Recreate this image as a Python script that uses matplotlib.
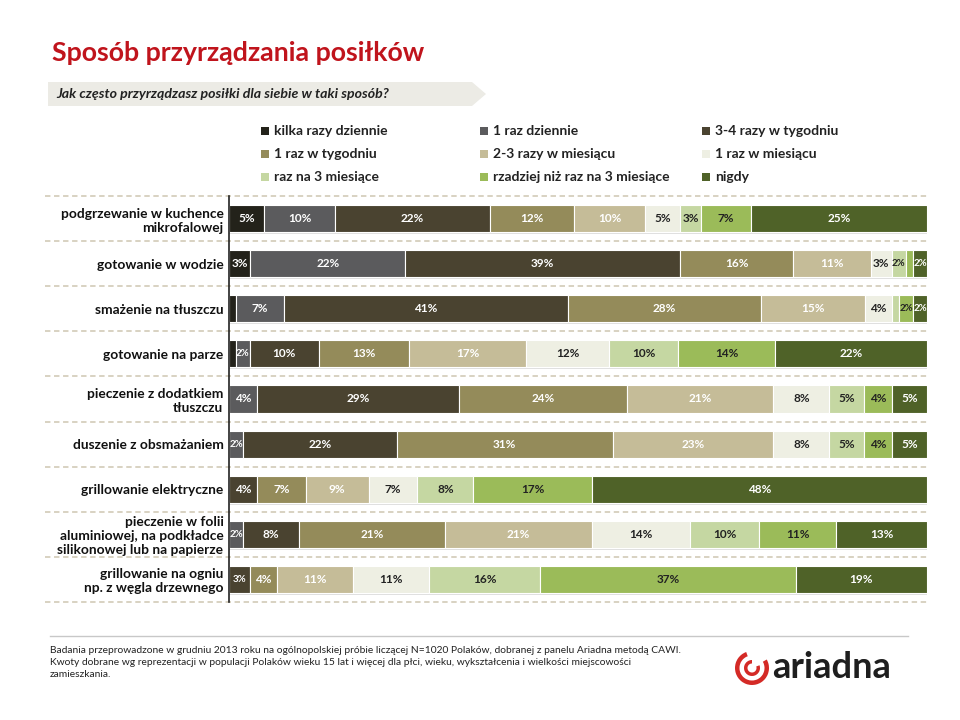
import numpy as np
import matplotlib.pyplot as plt
from matplotlib.patches import Polygon, Wedge
import matplotlib.transforms as mtransforms

plt.rcParams['font.family'] = ['Lato', 'DejaVu Sans']

# Data
methods = ['podgrzewanie w kuchence\nmikrofalowej',
           'gotowanie w wodzie',
           'smażenie na tłuszczu',
           'gotowanie na parze',
           'pieczenie z dodatkiem\ntłuszczu',
           'duszenie z obsmażaniem',
           'grillowanie elektryczne',
           'pieczenie w folii\naluminiowej, na podkładce\nsilikonowej lub na papierze',
           'grillowanie na ogniu\nnp. z węgla drzewnego']

freq_labels = ['kilka razy dziennie', '1 raz dziennie', '3-4 razy w tygodniu',
               '1 raz w tygodniu', '2-3 razy w miesiącu', '1 raz w miesiącu',
               'raz na 3 miesiące', 'rzadziej niż raz na 3 miesiące', 'nigdy']

# rows = methods, columns = frequency categories (%)
kuchenka = [5, 10, 22, 12, 10, 5, 3, 7, 25]
woda     = [3, 22, 39, 16, 11, 3, 2, 1, 2]
smazenie = [1, 7, 41, 28, 15, 4, 1, 2, 2]
para     = [1, 2, 10, 13, 17, 12, 10, 14, 22]
pieczenie_tl = [0, 4, 29, 24, 21, 8, 5, 4, 5]
duszenie = [0, 2, 22, 31, 23, 8, 5, 4, 5]
grill_el = [0, 0, 4, 7, 9, 7, 8, 17, 48]
folia    = [0, 2, 8, 21, 21, 14, 10, 11, 13]
grill_og = [0, 0, 3, 4, 11, 11, 16, 37, 19]

data = np.array([kuchenka, woda, smazenie, para, pieczenie_tl,
                 duszenie, grill_el, folia, grill_og], dtype=float)

colors = ['#23221a', '#5b5b5d', '#4a4330', '#948b5a', '#c5bc98',
          '#eeefe3', '#c5d7a2', '#9bbb59', '#4f6228']
text_colors = ['white', 'white', 'white', 'white', 'white',
               '#222222', '#222222', '#222222', 'white']

fig = plt.figure(figsize=(9.6, 7.2), dpi=100)

# Title and subtitle banner
fig.text(52 / 960, 1 - 53 / 720, 'Sposób przyrządzania posiłków', color='#c0141c',
         fontsize=19.3, fontweight='bold', va='center', ha='left')
banner = Polygon([(48 / 960, 1 - 82 / 720), (472 / 960, 1 - 82 / 720),
                  (486 / 960, 1 - 94 / 720), (472 / 960, 1 - 106 / 720),
                  (48 / 960, 1 - 106 / 720)], closed=True,
                 transform=fig.transFigure, facecolor='#ecebe5', edgecolor='none')
fig.patches.append(banner)
fig.text(56 / 960, 1 - 94 / 720, 'Jak często przyrządzasz posiłki dla siebie w taki sposób?',
         fontsize=10.2, fontweight='bold', style='italic', color='#222222',
         va='center', ha='left')

# Legend (row-wise, 3 columns)
col_x = [265, 484, 706]
row_y = [131, 154, 177]
for i, lab in enumerate(freq_labels):
    cx = col_x[i % 3]
    cy = row_y[i // 3]
    sq = plt.Rectangle(((cx - 4) / 960, 1 - (cy + 4) / 720), 8 / 960, 8 / 720,
                       transform=fig.transFigure, facecolor=colors[i], edgecolor='none')
    fig.patches.append(sq)
    fig.text((cx + 9) / 960, 1 - cy / 720, lab, fontsize=10, fontweight='bold',
             color='#222222', va='center', ha='left')

# Bars
ax = fig.add_axes([229 / 960, 1 - 602 / 720, (927 - 229) / 960, (602 - 196) / 720])
y = np.arange(len(methods))
totals = data.sum(axis=1)

# soft shadow under the bars
ax.barh(y + 0.04, np.full(len(methods), 100.0), height=0.6, color='#b8b8b8',
        alpha=0.45, edgecolor='none', zorder=2)

lefts = np.zeros(len(methods))
for j in range(data.shape[1]):
    widths = data[:, j] / totals * 100
    ax.barh(y, widths, left=lefts, height=0.6, color=colors[j],
            edgecolor='white', linewidth=0.8, zorder=3)
    for i in range(len(methods)):
        if data[i, j] >= 2:
            fs = 8.5 if widths[i] > 3 else 7
            ax.text(lefts[i] + widths[i] / 2, y[i], f'{int(data[i, j])}%',
                    ha='center', va='center', fontsize=fs, fontweight='bold',
                    color=text_colors[j], zorder=4)
    lefts = lefts + widths

# dashed separators across labels and bars
trans = mtransforms.blended_transform_factory(ax.transAxes, ax.transData)
for b in np.arange(len(methods) + 1) - 0.5:
    ax.plot([-0.264, 1.0], [b, b], transform=trans, color='#d6cfbd',
            lw=1.3, ls=(0, (3, 2)), clip_on=False, zorder=1)

ax.set_xlim(0, 100)
ax.set_ylim(len(methods) - 0.5, -0.5)
ax.set_yticks(y)
ax.set_yticklabels(methods, fontsize=9.9, fontweight='bold', color='#111111')
ax.tick_params(axis='y', length=0, pad=4)
ax.set_xticks([])
for s in ['top', 'right', 'bottom']:
    ax.spines[s].set_visible(False)
ax.spines['left'].set_color('#222222')
ax.spines['left'].set_linewidth(1.2)
ax.spines['left'].set_zorder(5)

# Footer
fig.add_artist(plt.Line2D([50 / 960, 908 / 960], [1 - 636 / 720, 1 - 636 / 720],
                          color='#c8c8c8', lw=1))
footer = ('Badania przeprowadzone w grudniu 2013 roku na ogólnopolskiej próbie liczącej N=1020 Polaków, '
          'dobranej z panelu Ariadna metodą CAWI.\n'
          'Kwoty dobrane wg reprezentacji w populacji Polaków wieku 15 lat i więcej dla płci, wieku, '
          'wykształcenia i wielkości miejscowości\nzamieszkania.')
fig.text(50 / 960, 1 - 646 / 720, footer, fontsize=7.4, color='#222222',
         va='top', ha='left', linespacing=1.4)

# Logo
ring = Wedge((0, 0), 17, 110, 390, width=4.5, facecolor='#d42a26', edgecolor='none')
ring.set_transform(mtransforms.Affine2D().translate(752, 720 - 668))
fig.add_artist(ring)
inner = Wedge((0, 0), 8, 90, 380, width=3.5, facecolor='#d42a26', edgecolor='none')
inner.set_transform(mtransforms.Affine2D().translate(752, 720 - 668))
fig.add_artist(inner)
fig.text(772 / 960, 1 - 668 / 720, 'ariadna', fontsize=26, fontweight='bold',
         color='#1e1e1e', va='center', ha='left')

fig.savefig('out.png', dpi=100)
